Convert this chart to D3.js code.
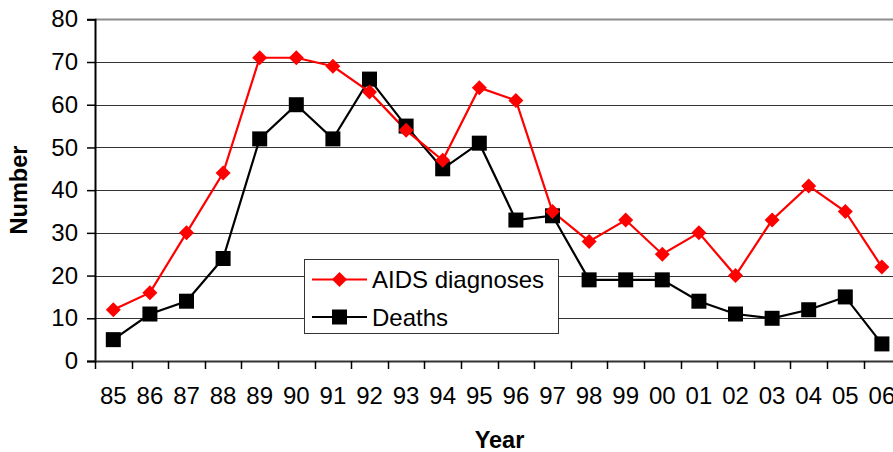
<!DOCTYPE html>
<html>
<head>
<meta charset="utf-8">
<script src="https://cdn.jsdelivr.net/npm/d3@7"></script>
<style>
  html, body { margin: 0; padding: 0; background: #fff; }
  svg { display: block; font-family: "Liberation Sans", Arial, sans-serif; }
</style>
</head>
<body>
<svg id="chart" width="893" height="452"></svg>
<script>
const years = ["85","86","87","88","89","90","91","92","93","94","95","96","97","98","99","00","01","02","03","04","05","06"];
const aidsDiagnoses = [12,16,30,44,71,71,69,63,54,47,64,61,35,28,33,25,30,20,33,41,35,22];
const deaths = [5,11,14,24,52,60,52,66,55,45,51,33,34,19,19,19,14,11,10,12,15,4];
const yTicks = [0,10,20,30,40,50,60,70,80];
const seriesNames = ["AIDS diagnoses", "Deaths"];

const svg = d3.select("#chart");
const pLeft = 95, pTop = 19.3, pBottom = 361, pRight = 95 + 22 * 36.6;
const fs = 24;

const x = d3.scaleBand().domain(years).range([pLeft, pRight]).padding(0);
const y = d3.scaleLinear().domain([0, 80]).range([pBottom, pTop]);

// gridlines
svg.append("g").selectAll("line").data(yTicks.filter(d => d > 0)).join("line")
  .attr("x1", pLeft).attr("x2", pRight)
  .attr("y1", d => Math.round(y(d)) + 0.5).attr("y2", d => Math.round(y(d)) + 0.5)
  .attr("stroke", d => d === 80 ? "#8c8c8c" : "#333")
  .attr("stroke-width", d => d === 80 ? 2 : 1);

// y axis
const yAxis = svg.append("g").attr("transform", `translate(${pLeft},0)`)
  .call(d3.axisLeft(y).tickValues(yTicks).tickSize(8).tickPadding(9));
yAxis.select(".domain").attr("stroke", "#000").attr("stroke-width", 2);
yAxis.selectAll(".tick line").attr("stroke", "#000").attr("stroke-width", 1.5);
yAxis.selectAll(".tick text").attr("font-size", fs).attr("fill", "#000")
  .attr("font-family", "Liberation Sans, Arial, sans-serif");

// x axis
const xAxis = svg.append("g").attr("transform", `translate(0,${pBottom})`)
  .call(d3.axisBottom(x).tickSize(0).tickPadding(26));
xAxis.select(".domain").attr("stroke", "#333").attr("stroke-width", 2);
xAxis.selectAll(".tick text").attr("font-size", fs).attr("fill", "#000")
  .attr("font-family", "Liberation Sans, Arial, sans-serif");
// x tick marks at band boundaries
const boundaries = years.map(d => x(d)).concat([x(years[years.length - 1]) + x.bandwidth()]);
svg.append("g").selectAll("line").data(boundaries).join("line")
  .attr("x1", d => Math.round(d) + 0.5).attr("x2", d => Math.round(d) + 0.5)
  .attr("y1", pBottom).attr("y2", pBottom + 8)
  .attr("stroke", "#000").attr("stroke-width", 1.5);

// lines
const cx = d => x(d) + x.bandwidth() / 2;
const lineGen = d3.line().x(d => cx(d.year)).y(d => y(d.value));
const aidsData = years.map((yr, i) => ({ year: yr, value: aidsDiagnoses[i] }));
const deathData = years.map((yr, i) => ({ year: yr, value: deaths[i] }));

svg.append("path").datum(deathData).attr("d", lineGen)
  .attr("fill", "none").attr("stroke", "#000").attr("stroke-width", 2.2);
svg.append("path").datum(aidsData).attr("d", lineGen)
  .attr("fill", "none").attr("stroke", "#ff0000").attr("stroke-width", 2.2);

const sq = 15, dm = 7.5;
function square(g, px, py) {
  g.append("rect").attr("x", px - sq / 2).attr("y", py - sq / 2)
    .attr("width", sq).attr("height", sq).attr("fill", "#000");
}
function diamond(g, px, py) {
  g.append("path").attr("d", `M${px},${py - dm}L${px + dm},${py}L${px},${py + dm}L${px - dm},${py}Z`)
    .attr("fill", "#ff0000");
}
const mk = svg.append("g");
deathData.forEach(d => square(mk, cx(d.year), y(d.value)));
aidsData.forEach(d => diamond(mk, cx(d.year), y(d.value)));

// legend
const lg = svg.append("g");
lg.append("rect").attr("x", 304.5).attr("y", 259.5).attr("width", 254).attr("height", 74)
  .attr("fill", "#fff").attr("stroke", "#333").attr("stroke-width", 1);
const rows = [279.5, 317];
seriesNames.forEach((name, i) => {
  const ry = rows[i];
  lg.append("line").attr("x1", 312).attr("x2", 367).attr("y1", ry).attr("y2", ry)
    .attr("stroke", i === 0 ? "#ff0000" : "#000").attr("stroke-width", 2.2);
  if (i === 0) diamond(lg, 339.5, ry); else square(lg, 339.5, ry);
  lg.append("text").attr("x", 372).attr("y", ry + 8.5).attr("font-size", fs)
    .attr("fill", "#000").text(name);
});

// axis titles
svg.append("text").attr("transform", "translate(27,190) rotate(-90)")
  .attr("text-anchor", "middle").attr("font-size", 23.5).attr("font-weight", "bold")
  .text("Number");
svg.append("text").attr("x", 499.5).attr("y", 447.5)
  .attr("text-anchor", "middle").attr("font-size", 23.5).attr("font-weight", "bold")
  .text("Year");
</script>
</body>
</html>
